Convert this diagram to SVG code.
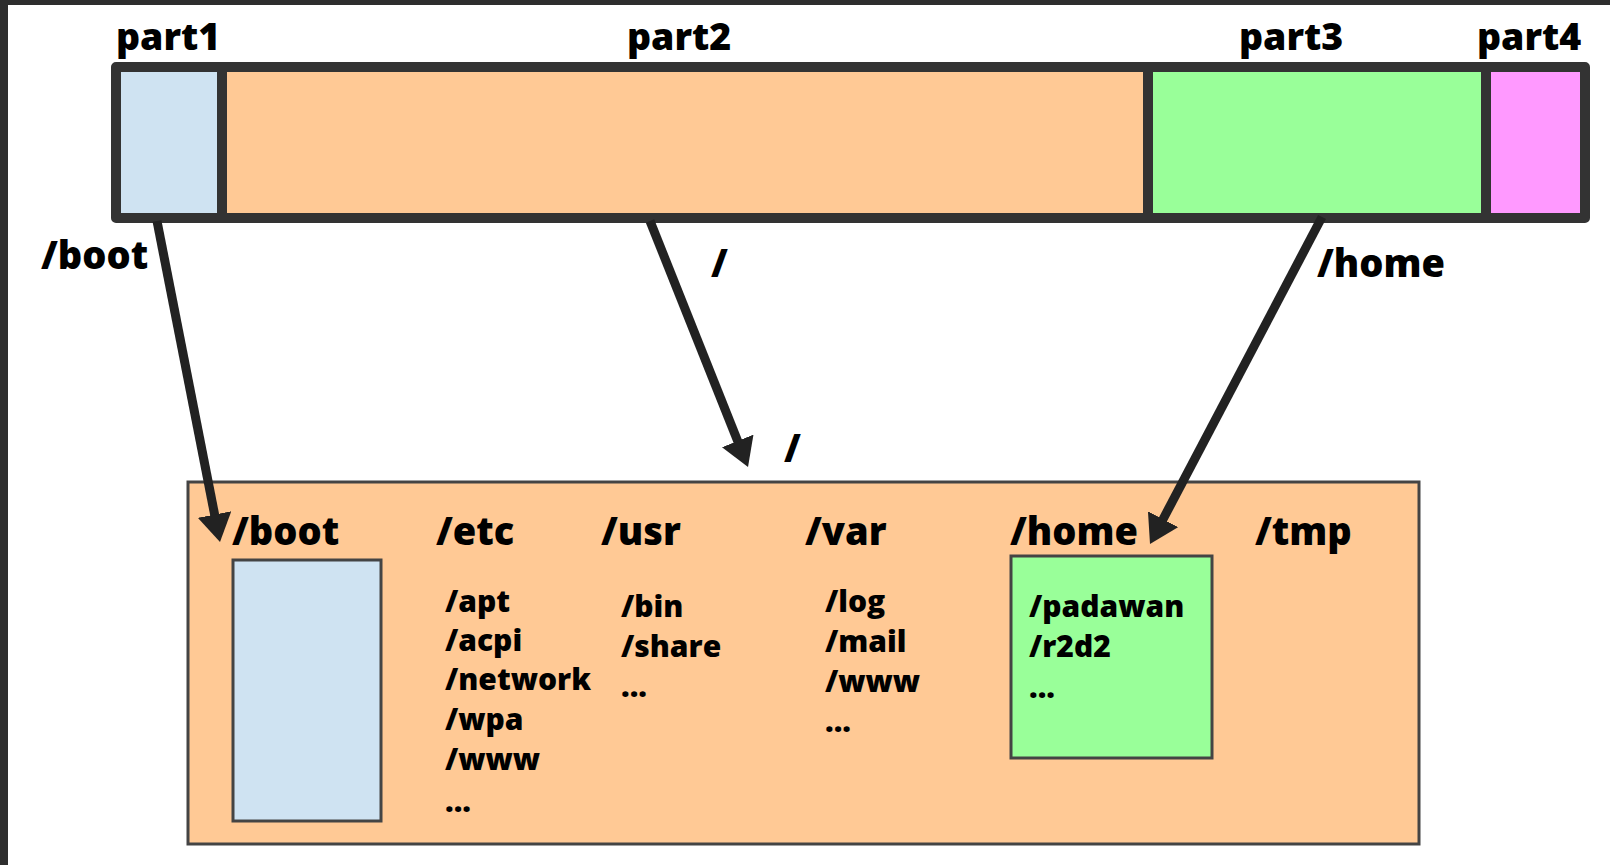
<svg xmlns="http://www.w3.org/2000/svg" width="1610" height="865" viewBox="0 0 1610 865">
<style>
.lbl{font-family:"Open Sans","Noto Sans","Liberation Sans",sans-serif;font-weight:800;fill:#000}
.big{font-size:38px}
.part{font-size:37.5px}
.sm{font-size:30px}
.seg{stroke:none}
.box{stroke:#444;stroke-width:3}
.arrow{fill:none;stroke:#222;stroke-width:9}
</style>
<defs>
<marker id="ah" markerUnits="userSpaceOnUse" markerWidth="30" markerHeight="34" refX="2" refY="17" orient="auto" viewBox="0 0 30 34">
<path d="M0,0 L28,17 L0,34 z" fill="#222"/>
</marker>
</defs>
<rect x="0" y="0" width="1610" height="865" fill="#fff"/>
<rect x="0" y="0" width="8" height="865" fill="#2e2e2e"/>
<rect x="0" y="0" width="1610" height="5" fill="#2e2e2e"/>

<g id="disk">
<rect class="seg" x="116" y="67" width="106" height="151" fill="#cfe3f2"/>
<rect class="seg" x="222" y="67" width="926" height="151" fill="#ffc995"/>
<rect class="seg" x="1148" y="67" width="338" height="151" fill="#99ff99"/>
<rect class="seg" x="1486" y="67" width="99" height="151" fill="#ff99ff"/>
<rect x="116" y="67" width="1469" height="151" fill="none" stroke="#333" stroke-width="10" stroke-linejoin="round"/>
<line x1="222" y1="67" x2="222" y2="218" stroke="#333" stroke-width="10"/>
<line x1="1148" y1="67" x2="1148" y2="218" stroke="#333" stroke-width="10"/>
<line x1="1486" y1="67" x2="1486" y2="218" stroke="#333" stroke-width="10"/>
<text class="lbl part" x="116" y="50">part1</text>
<text class="lbl part" x="627" y="50">part2</text>
<text class="lbl part" x="1239" y="50">part3</text>
<text class="lbl part" x="1477" y="50">part4</text>
</g>

<g id="root">
<rect class="box" x="188" y="482" width="1231" height="362" fill="#ffc995"/>
<text class="lbl big" x="784" y="462">/</text>
<text class="lbl big" x="232" y="545">/boot</text>
<text class="lbl big" x="436" y="545">/etc</text>
<text class="lbl big" x="601" y="545">/usr</text>
<text class="lbl big" x="805" y="545">/var</text>
<text class="lbl big" x="1010" y="545">/home</text>
<text class="lbl big" x="1255" y="545">/tmp</text>
</g>

<g id="bootbox">
<rect class="box" x="233" y="560" width="148" height="261" fill="#cfe3f2"/>
</g>

<g id="etc">
<text class="lbl sm" x="445" y="612">/apt</text>
<text class="lbl sm" x="445" y="651">/acpi</text>
<text class="lbl sm" x="445" y="690">/network</text>
<text class="lbl sm" x="445" y="730">/wpa</text>
<text class="lbl sm" x="445" y="770">/www</text>
<text class="lbl sm" x="445" y="812">...</text>
</g>

<g id="usr">
<text class="lbl sm" x="621" y="617">/bin</text>
<text class="lbl sm" x="621" y="657">/share</text>
<text class="lbl sm" x="621" y="697">...</text>
</g>

<g id="var">
<text class="lbl sm" x="825" y="612">/log</text>
<text class="lbl sm" x="825" y="652">/mail</text>
<text class="lbl sm" x="825" y="692">/www</text>
<text class="lbl sm" x="825" y="732">...</text>
</g>

<g id="homebox">
<rect class="box" x="1011" y="556" width="201" height="202" fill="#99ff99"/>
<text class="lbl sm" x="1029" y="617">/padawan</text>
<text class="lbl sm" x="1029" y="657">/r2d2</text>
<text class="lbl sm" x="1029" y="698">...</text>
</g>

<g id="connectors">
<line class="arrow" x1="157" y1="221" x2="215" y2="516.5" marker-end="url(#ah)"/>
<line class="arrow" x1="650" y1="221" x2="738.4" y2="442.8" marker-end="url(#ah)"/>
<line class="arrow" x1="1322" y1="217" x2="1162.1" y2="521" marker-end="url(#ah)"/>
<text class="lbl big" x="41" y="269">/boot</text>
<text class="lbl big" x="711" y="277">/</text>
<text class="lbl big" x="1317" y="277">/home</text>
</g>
</svg>
